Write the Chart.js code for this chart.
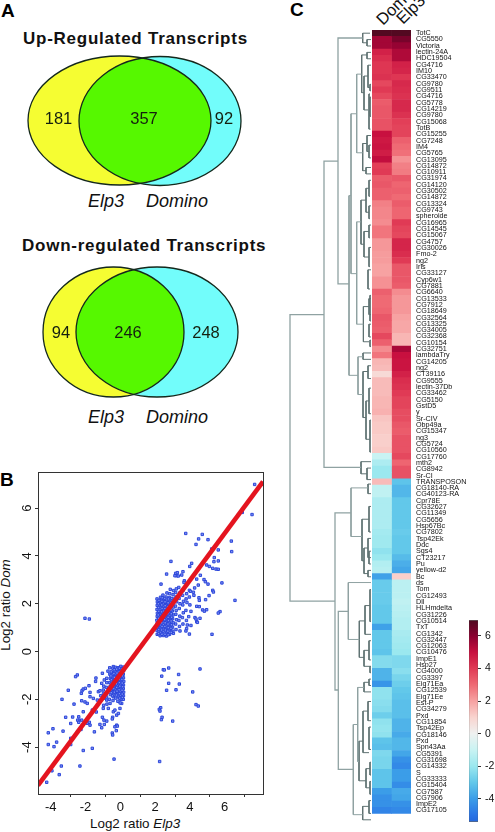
<!DOCTYPE html>
<html>
<head>
<meta charset="utf-8">
<script src="https://cdn.jsdelivr.net/npm/chart.js"></script>
<style>
  html, body { margin: 0; padding: 0; background: #fff; width: 495px; height: 832px; overflow: hidden; }
  canvas { position: absolute; }
  .t { position: absolute; white-space: nowrap; font-family: "Liberation Sans", Arial, sans-serif; color: #111; line-height: 1; }
  .panel { font-weight: bold; font-size: 19px; color: #000; }
  .venn-title { font-weight: bold; font-size: 17px; letter-spacing: 0.75px; }
  .venn-name { font-style: italic; font-size: 18px; }
  .axis-title { font-size: 13.4px; }
  .sample { font-size: 16.5px; transform-origin: 0 85%; transform: rotate(-45deg); }
</style>
</head>
<body>
<div class="t panel" style="left:1px;top:1px">A</div>
<div class="t panel" style="left:0px;top:470px">B</div>
<div class="t panel" style="left:290px;top:0px">C</div>
<div class="t venn-title" style="left:23px;top:30px">Up-Regulated Transcripts</div>
<div class="t venn-title" style="left:22px;top:237px">Down-regulated Transcripts</div>
<div class="t venn-name" style="left:88px;top:192px">Elp3</div>
<div class="t venn-name" style="left:146px;top:192px">Domino</div>
<div class="t venn-name" style="left:88px;top:408px">Elp3</div>
<div class="t venn-name" style="left:146px;top:408px">Domino</div>
<div class="t axis-title" style="left:90px;top:817px">Log2 ratio <i>Elp3</i></div>
<div class="t axis-title" style="left:6px;top:605px;transform:translate(-50%,-50%) rotate(-90deg)">Log2 ratio <i>Dom</i></div>
<div class="t sample" id="sample0" style="left:383px;top:12px"></div>
<div class="t sample" id="sample1" style="left:403px;top:11px"></div>

<canvas id="vennChart" style="left:0;top:0"></canvas>
<canvas id="scatterChart" style="left:0;top:460px"></canvas>
<canvas id="treeChart" style="left:284px;top:30px"></canvas>
<canvas id="heatChart" style="left:372px;top:0"></canvas>
<canvas id="barChart" style="left:469px;top:610px"></canvas>

<script>
// Venn counts and ellipses (in panel units)
const vennCounts = [[181, 357, 92], [94, 246, 248]];
const vennCountX = [[58.5, 144, 224], [61, 128, 206]];
const vennCountY = [119, 333];
const vennLeft = [[119.5, 120.5, 91.5, 64.5], [113.5, 332, 70.5, 65]];
const vennRight = [[160, 121, 81, 64.5], [157, 332, 81, 65]];

// Scatter: log2 ratios
const upElp3 = [
  6.57, 6.42, 5.86, 2.61, 3.56, 3.35, 3.89, 3.20, 5.23, 5.25, 4.10, 4.48, 4.25, 4.23, 4.48, 2.95, 2.84, 1.76, 1.51, 2.45,
  2.03, 2.13, 2.09, 1.99, 2.18, 2.38, 3.81, 3.97, 4.16, 4.35, 4.48, 3.45, 3.24, 3.66, 3.74, 3.89, 4.69, 3.33, 2.53, 2.51,
  1.19, 3.12, 2.82, 4.16, 4.20, 3.05, 3.08, 3.95, 3.75, 3.37, 3.39, 5.44, 3.24, 3.39, 3.58, 3.81, 3.68, 4.58, 4.48, 2.91,
  2.78, 3.14, 3.43, 3.20, 3.24, 3.28, 2.91, 2.70, 2.66, 2.28, 2.62, 2.82, 4.12, 1.90, -3.18, -2.93,
  .97, .96, .98, .97, .95, .97, .98, .96, .97, .98, .96,
  1.14, 1.16, 1.13, 1.15, 1.17, 1.14, 1.16, 1.13, 1.15, 1.17, 1.14, 1.16,
  1.33, 1.31, 1.35, 1.32, 1.34, 1.36, 1.31, 1.33, 1.35, 1.32, 1.34, 1.3,
  1.5, 1.52, 1.48, 1.51, 1.49, 1.53, 1.5, 1.47, 1.52, 1.49, 1.51, 1.48, 1.53,
  1.68, 1.66, 1.7, 1.67, 1.69, 1.65, 1.71, 1.68, 1.66, 1.7, 1.67, 1.69, 1.72,
  1.87, 1.85, 1.89, 1.86, 1.88, 1.84, 1.9, 1.87, 1.85, 1.88, 1.91,
  2.05, 2.03, 2.08, 2.04, 2.06, 2.02, 2.09, 2.05, 2.03, 2.07,
  2.25, 2.22, 2.27, 2.24, 2.28, 2.23, 2.26, 2.21,
  2.45, 2.42, 2.47, 2.44, 2.48, 2.43, 2.46,
  2.65, 2.62, 2.68, 2.63, 2.66,
  2.85, 2.82, 2.88,
  1.05, 1.06, 1.04, 1.07, 1.05, 1.03, 1.06, 1.05, 1.04, 1.07,
  1.24, 1.22, 1.25, 1.23, 1.26, 1.24, 1.22, 1.25, 1.23, 1.24, 1.26,
  1.42, 1.44, 1.41, 1.43, 1.4, 1.42, 1.44, 1.41, 1.43, 1.42, 1.4,
  1.6, 1.58, 1.61, 1.59, 1.62, 1.6, 1.58, 1.61, 1.59, 1.6, 1.62,
  1.78, 1.76, 1.79, 1.77, 1.8, 1.78, 1.76, 1.79, 1.77, 1.8
];
const upDom = [
  6.99, 5.73, 5.82, 4.94, 4.90, 4.71, 4.68, 4.48, 4.62, 4.18, 4.29, 4.25, 3.93, 3.76, 3.79, 3.69, 3.56, 3.77, 3.24, 3.34,
  3.27, 3.30, 3.17, 3.17, 3.16, 3.20, 3.62, 3.56, 3.48, 3.45, 3.44, 3.19, 3.03, 3.01, 2.92, 2.82, 2.87, 2.78, 2.96, 2.89,
  2.82, 2.66, 2.56, 2.56, 2.49, 2.48, 2.35, 2.34, 2.17, 2.25, 2.14, 2.14, 1.89, 1.88, 1.74, 1.75, 1.69, 1.67, 1.61, 1.68,
  1.46, 1.42, 1.39, 1.36, 1.25, 1.22, 1.09, 1.11, 0.96, 0.86, 0.86, 0.73, 0.72, 0.76, 1.39, 1.36,
  .72, .88, 1.02, 1.18, 1.31, 1.47, 1.6, 1.76, 1.93, 2.07, 2.2,
  .66, .8, .97, 1.1, 1.26, 1.4, 1.55, 1.69, 1.84, 1.98, 2.13, 2.27,
  .67, .84, .99, 1.13, 1.29, 1.44, 1.58, 1.74, 1.88, 2.03, 2.18, 2.36,
  .65, .78, .94, 1.08, 1.24, 1.37, 1.52, 1.67, 1.82, 1.96, 2.11, 2.28, 2.45,
  .72, .9, 1.05, 1.19, 1.34, 1.49, 1.63, 1.79, 1.94, 2.1, 2.26, 2.42, 2.6,
  .85, 1.02, 1.2, 1.37, 1.53, 1.7, 1.86, 2.02, 2.2, 2.38, 2.55,
  .92, 1.15, 1.33, 1.56, 1.72, 1.9, 2.08, 2.28, 2.47, 2.62,
  1.05, 1.3, 1.48, 1.8, 2.0, 2.22, 2.45, 2.68,
  1.15, 1.42, 1.62, 1.95, 2.1, 2.35, 2.57,
  1.3, 1.72, 2.05, 2.2, 2.42,
  1.95, 2.28, 2.52,
  .75, .92, 1.1, 1.25, 1.39, 1.53, 1.68, 1.84, 2.0, 2.14,
  .72, .9, 1.05, 1.2, 1.36, 1.5, 1.66, 1.8, 1.95, 2.1, 2.25,
  .72, .9, 1.05, 1.2, 1.33, 1.5, 1.63, 1.8, 1.92, 2.08, 2.22,
  .7, .85, 1.0, 1.15, 1.3, 1.43, 1.58, 1.74, 1.88, 2.04, 2.2,
  .8, .97, 1.12, 1.28, 1.43, 1.58, 1.74, 1.9, 2.05, 2.22
];
const downElp3 = [
  1.32, 1.63, 1.38, 1.23, 2.20, 3.43, 1.63, 2.24, 1.51, 2.05, 3.01, 3.20, 3.33, 1.17, 1.09, 1.13, 1.25, 1.21, 1.86, 1.11, -1.51,
  -3.62, -3.72, -4.14, -4.50, -3.81, -4.29, -3.89, -3.54, -4.00, -5.02, -5.29, -4.44, -4.00, -4.81, -5.29, -4.96, -4.00, -3.28, -2.76, -4.54, -3.47, -5.08, -4.66, -5.38,
  -3.39, -3.35, -3.28, -3.16, -2.95, -2.89, -2.55, -2.57, -2.18, -1.86, -1.76, -1.55, -2.07, -1.93, -2.22, -2.41, -2.32, -2.13, -3.37, -3.18, -3.05, -2.89, -2.70, -2.47, -2.32,
  -3.28, -3.52, -3.60, -3.37, -3.54, -3.05, -2.93, -2.89, -2.64, -3.41, -2.53, -2.76, -2.32, -2.18, -2.09, -1.93, -2.07, -2.22, -1.36, -1.46, -1.32, -1.38, -1.61, -1.59,
  -2.13, -1.84, -1.55, -1.59, -1.61, -1.36, -1.46, -1.26, -1.17, -1.07, -1.74, -1.93, -1.55,
  -.97, -.96, -.98, -.97, -.95, -.97, -.98, -.96, -.97, -.98,
  -1.13, -1.15, -1.12, -1.14, -1.16, -1.13, -1.11, -1.15, -1.14, -1.12, -1.16,
  -1.28, -1.3, -1.27, -1.29, -1.26, -1.31, -1.28, -1.3, -1.27, -1.29,
  -1.43, -1.45, -1.42, -1.44, -1.41, -1.46, -1.43, -1.45, -1.42,
  -1.58, -1.6, -1.57, -1.59, -1.56, -1.61, -1.58, -1.6, -1.57,
  -1.75, -1.73, -1.77, -1.74, -1.76, -1.72, -1.78,
  -1.93, -1.95, -1.91, -1.94, -1.92,
  -2.1, -2.12, -2.08, -2.11,
  -2.28, -2.26,
  -1.04, -1.05, -1.03, -1.06, -1.04, -1.02, -1.05, -1.04, -1.03,
  -1.2, -1.22, -1.19, -1.21, -1.2, -1.18, -1.22, -1.2, -1.19,
  -1.36, -1.34, -1.37, -1.35, -1.38, -1.36, -1.34, -1.37,
  -1.5, -1.52, -1.49, -1.51, -1.5, -1.53, -1.49,
  -1.67, -1.69, -1.66, -1.68, -1.65, -1.67
];
const downDom = [
  -0.76, -0.69, -0.77, -1.03, -0.96, -0.73, -1.33, -1.36, -1.62, -1.60, -1.69, -2.22, -2.28, -2.35, -2.42, -2.49, -2.75, -2.85, -2.91, -4.60, -4.50,
  -0.98, -1.05, -1.62, -2.00, -2.20, -2.75, -2.74, -2.73, -3.01, -3.23, -3.40, -3.33, -3.63, -3.79, -3.89, -3.98, -3.89, -4.14, -4.05, -4.79, -4.79, -4.99, -5.15, -5.47,
  -1.75, -1.64, -1.57, -1.54, -1.43, -1.71, -1.11, -1.25, -0.91, -0.82, -0.68, -0.63, -1.19, -1.12, -1.33, -1.68, -1.64, -1.61, -2.06, -2.11, -2.17, -1.89, -1.96, -2.03, -2.10,
  -2.52, -2.87, -2.87, -2.87, -2.96, -3.00, -2.96, -3.08, -3.36, -3.26, -2.53, -2.45, -3.05, -2.75, -2.87, -2.91, -3.05, -3.19, -3.08, -3.15, -3.12, -3.31, -3.41, -3.49,
  -2.38, -2.38, -2.52, -2.75, -2.82, -2.66, -2.45, -2.59, -2.38, -2.17, -2.17, -2.03, -1.89,
  -.65, -.8, -.95, -1.1, -1.25, -1.4, -1.55, -1.7, -1.85, -2.0,
  -.62, -.78, -.92, -1.07, -1.22, -1.37, -1.52, -1.68, -1.83, -2.0, -2.15,
  -.68, -.83, -.98, -1.13, -1.28, -1.43, -1.58, -1.73, -1.9, -2.08,
  -.66, -.82, -.97, -1.12, -1.27, -1.42, -1.57, -1.74, -1.95,
  -.7, -.88, -1.05, -1.2, -1.36, -1.5, -1.68, -1.85, -2.05,
  -.95, -1.12, -1.3, -1.47, -1.63, -1.8, -2.0,
  -1.3, -1.5, -1.7, -1.9, -2.2,
  -1.45, -1.75, -1.95, -2.25,
  -1.85, -2.02,
  -.72, -.87, -1.02, -1.17, -1.32, -1.47, -1.62, -1.78, -1.92,
  -.7, -.85, -1.0, -1.15, -1.3, -1.45, -1.6, -1.76, -1.95,
  -.74, -.9, -1.05, -1.2, -1.35, -1.5, -1.66, -1.82,
  -.76, -.92, -1.08, -1.24, -1.38, -1.55, -1.7,
  -.85, -1.02, -1.18, -1.36, -1.55, -1.72
];
const fitX = [-5.88, 7.05];
const fitY = [-5.6, 7.11];
const scatterTicksX = [-4, -2, 0, 2, 4, 6];
const scatterTicksY = [-4, -2, 0, 2, 4, 6];

// Heat map
const genes = ['TotC', 'CG5550', 'Victoria', 'lectin-24A', 'HDC19504', 'CG4716', 'IM10', 'CG33470', 'CG9780', 'CG9511',
  'CG4716', 'CG5778', 'CG14219', 'CG9780', 'CG15068', 'TotB', 'CG15255', 'CG7248', 'IM4', 'CG5765',
  'CG13095', 'CG14872', 'CG10911', 'CG31974', 'CG14120', 'CG30502', 'CG14872', 'CG13324', 'CG9743', 'spheroide',
  'CG16965', 'CG14545', 'CG15067', 'CG4757', 'CG30026', 'Fmo-2', 'ng2', 'Iris', 'CG33127', 'Cyp6w1',
  'CG7881', 'CG6640', 'CG13533', 'CG7912', 'CG18649', 'CG32564', 'CG13325', 'CG34005', 'CG32368', 'CG10154',
  'CG32751', 'lambdaTry', 'CG14205', 'ng2', 'CT39116', 'CG9555', 'lectin-37Db', 'CG33462', 'CG5150', 'GstD5',
  'y', 'Sr-CIV', 'Obp49a', 'CG15347', 'ng3', 'CG5724', 'CG10560', 'CG17760', 'mth2', 'CG8942',
  'Sr-CI', 'TRANSPOSON', 'CG18140-RA', 'CG40123-RA', 'Cpr78E', 'CG32627', 'CG11349', 'CG5656', 'Hsp67Bc', 'CG7802',
  'Tsp42Ek', 'Ddc', 'Sgs4', 'CT23217', 'Pu', 'yellow-d2', 'Bc', 'ds', 'Tom', 'CG12493',
  'Dll', 'HLHmdelta', 'CG31226', 'CG10514', 'TxT', 'CG1342', 'CG32447', 'CG12063', 'CG10476', 'ImpE1',
  'Hsp27', 'CG4000', 'CG3397', 'Eig71Ea', 'CG12539', 'Eig71Ee', 'Est-P', 'CG34279', 'Pxd', 'CG11854',
  'Tsp42Ep', 'CG18146', 'Pxd', 'Spn43Aa', 'CG5391', 'CG31698', 'CG14332', 'S', 'CG33333', 'CG15404',
  'CG7587', 'CG7906', 'ImpE2', 'CG17105'];
const domValues = [6.9, 5.6, 5.6, 4.6, 4.3, 4.1, 4.1, 4.2, 3.7, 4.0,
  3.7, 3.3, 3.4, 3.4, 3.5, 3.5, 5.0, 4.8, 4.9, 4.7,
  5.1, 3.9, 4.0, 3.3, 3.4, 3.2, 3.2, 2.6, 2.5, 2.5,
  2.4, 2.8, 2.8, 2.2, 2.2, 2.1, 2.1, 2.0, 2.0, 2.3,
  2.3, 3.2, 3.0, 3.0, 3.1, 3.4, 3.3, 3.2, 3.7, 3.2,
  2.4, 2.8, 1.6, 1.5, 0.8, 1.5, 1.5, 1.5, 1.6, 1.6,
  1.7, 1.3, 1.2, 1.2, 1.1, 1.1, 1.2, -1.0, -1.6, -2.0,
  -2.0, 1.5, -1.2, -1.2, -1.6, -1.6, -1.6, -1.6, -1.6, -1.8,
  -1.9, -1.9, -2.2, -2.0, -1.5, -1.4, -3.9, -2.9, -2.9, -2.9,
  -2.9, -3.0, -3.0, -3.0, -3.9, -3.0, -3.0, -3.0, -3.1, -2.4,
  -2.4, -3.5, -3.5, -4.2, -2.2, -2.2, -2.3, -2.4, -2.8, -2.2,
  -2.1, -2.2, -3.1, -3.2, -2.5, -2.6, -2.6, -3.1, -3.1, -3.1,
  -4.0, -4.3, -4.3, -4.6];
const elp3Values = [6.9, 6.3, 5.8, 5.4, 5.4, 4.6, 4.5, 4.1, 4.4, 4.3,
  4.2, 4.4, 4.4, 4.2, 3.9, 3.8, 3.8, 3.2, 3.0, 2.9,
  2.3, 2.6, 2.7, 3.4, 3.1, 3.2, 3.0, 3.3, 3.1, 3.1,
  4.0, 3.8, 3.7, 4.5, 4.5, 4.3, 4.0, 3.4, 3.4, 3.4,
  3.3, 2.4, 2.2, 2.2, 2.2, 2.0, 1.9, 1.9, 1.6, 1.6,
  5.5, 5.0, 4.9, 4.9, 4.6, 4.3, 4.2, 4.0, 3.8, 3.8,
  3.6, 3.6, 3.4, 3.3, 3.5, 3.5, 3.5, 3.7, 3.1, 3.5,
  3.5, -3.1, -3.4, -3.4, -3.0, -3.0, -3.0, -3.0, -3.0, -2.9,
  -3.0, -3.0, -3.0, -3.3, -3.6, -3.8, 1.1, -1.3, -1.3, -1.3,
  -1.2, -1.3, -1.4, -1.5, -1.5, -1.7, -1.8, -1.9, -2.0, -2.5,
  -2.5, -2.3, -2.6, -2.8, -3.0, -3.1, -3.2, -3.2, -3.2, -3.5,
  -3.5, -3.7, -3.4, -3.4, -3.8, -4.3, -4.5, -4.0, -4.0, -4.4,
  -3.7, -3.8, -4.3, -4.5];
const sampleNames = ['Dom', 'Elp3'];

// Colour key: value -> colour
const keyValues = [-5.41, -5, -4, -3, -2, -1, 0, 1, 2, 3, 4, 5, 6, 6.96];
const keyColors = ['#2468dc', '#2a74e6', '#3b9de8', '#62c8ea', '#9be8ef', '#c9f3f3', '#eff1f0', '#f9d4cf', '#f7a2a2', '#ef6a74', '#e03a55', '#c8103f', '#8a0030', '#4f0a20'];
const keyTicks = [-4, -2, 0, 2, 4, 6];

// Dendrogram merges: [height, top row, bottom row, top child height, bottom child height]
const treeMerges = [
  [82, 44.5, 89.3, 48, 37], [48, 20.5, 68.4, 34, 11], [34, 1.25, 39.7, 9.3, 23], [9.3, 0.5, 2, 2, 5], [5, 1.5, 2.5, 1, 1],
  [23, 25.9, 54, 21, 14], [21, 13.1, 38.1, 15.3, 15.3], [15.3, 6.9, 19.2, 10.3, 9.3], [10.3, 3.9, 9.8, 5, 8], [5, 3.5, 4.5, 1, 1],
  [8, 7.2, 12.5, 4, 4], [4, 5.5, 9, 1, 2], [2, 8.5, 9.5, 1, 1], [3, 10, 15.5, 2, 1.5], [2, 10.5, 13.5, 1, 1], [9.3, 17.75, 22, 5, 6],
  [5, 16.5, 19, 1, 3], [3, 18, 20, 1, 1], [6, 21.5, 22.5, 1, 1],
  [15.3, 30, 46, 11, 8.6], [11, 26.6, 33.5, 6, 8], [6, 24.75, 28.5, 3, 3], [3, 23.5, 26, 1, 2], [3, 27.5, 29.5, 1, 2],
  [8, 31.5, 35.5, 3, 3], [3, 30.5, 32.5, 1, 2], [3, 34, 37, 1, 2], [4, 37.5, 40.5, 1, 2],
  [8.6, 43.25, 48.75, 3, 3], [3, 42, 44.5, 1, 1], [3, 46, 48, 1, 1], [2, 48.5, 49.5, 1, 1], [2, 41.5, 45.5, 1, 1],
  [14, 51.1, 57, 9, 9], [9, 50.5, 51.5, 1, 1], [9, 53.4, 60.6, 4, 6], [4, 52.5, 54.5, 1, 1], [6, 58, 64, 3, 2], [3, 56, 60, 1, 1], [2, 61, 66, 1, 1],
  [11, 67.5, 69.4, 1, 5], [5, 68.5, 70.3, 1, 1],
  [37, 75.5, 103.2, 21, 33.7], [21, 71.6, 79.2, 4, 10], [4, 71, 72.5, 1, 1], [10, 76.5, 83, 3, 8], [3, 74.5, 78.5, 1, 1],
  [8, 81, 85, 4, 4], [4, 79.5, 82.5, 1, 1], [4, 84.5, 85.5, 1, 1], [3, 81.5, 83.5, 1, 1],
  [33.7, 90.9, 115.6, 23.7, 18.7], [23.7, 86.4, 95.3, 1, 12.7], [12.7, 92.4, 98.1, 7, 8], [7, 90, 94.5, 2, 1], [2, 87.5, 92.5, 1, 1],
  [8, 97, 99.5, 3, 2], [3, 95.5, 98.5, 1, 1], [2, 99.5, 100.5, 1, 1],
  [18.7, 108.6, 122.7, 14.3, 9.3], [14.3, 102.8, 114.4, 8, 13], [8, 102, 103.5, 3, 1], [3, 101.5, 102.5, 1, 1],
  [13, 111.2, 117.4, 9, 6], [9, 106.5, 113, 4, 3], [4, 105, 108, 1, 1], [3, 109, 112.5, 1, 1],
  [6, 115.5, 118.5, 2, 2], [2, 114.5, 116.5, 1, 1], [2, 117.5, 119.5, 1, 1],
  [9.3, 121.4, 123.5, 3, 1], [3, 120.5, 122.5, 1, 1]
];

function keyColor(value) {
  for (let i = 1; i < keyValues.length; i++) {
    if (value <= keyValues[i]) {
      const f = (value - keyValues[i - 1]) / (keyValues[i] - keyValues[i - 1]);
      const a = parseInt(keyColors[i - 1].slice(1), 16);
      const b = parseInt(keyColors[i].slice(1), 16);
      const mix = s => Math.round(((a >> s) & 255) * (1 - f) + ((b >> s) & 255) * f);
      return `rgb(${mix(16)},${mix(8)},${mix(0)})`;
    }
  }
  return keyColors[keyColors.length - 1];
}

function sizeCanvas(id, w, h) {
  const c = document.getElementById(id);
  c.width = w;
  c.height = h;
  c.style.width = w + 'px';
  c.style.height = h + 'px';
  return c;
}

sampleNames.forEach((name, i) => {
  document.getElementById('sample' + i).textContent = name;
});

Chart.defaults.font.family = '"Liberation Sans", Arial, sans-serif';
Chart.defaults.animation = false;
Chart.defaults.responsive = false;
Chart.defaults.plugins.legend.display = false;
Chart.defaults.plugins.tooltip.enabled = false;

// Venn diagrams, ellipses placed through the chart scales
const vennPlugin = {
  id: 'venn',
  afterDatasetsDraw(chart) {
    const { ctx, scales: { x, y } } = chart;
    const ellipse = e => {
      const cx = x.getPixelForValue(e[0]);
      const cy = y.getPixelForValue(e[1]);
      const rx = x.getPixelForValue(e[0] + e[2]) - cx;
      const ry = y.getPixelForValue(e[1] + e[3]) - cy;
      ctx.beginPath();
      ctx.ellipse(cx, cy, rx, ry, 0, 0, Math.PI * 2);
    };
    vennCounts.forEach((counts, i) => {
      ctx.save();
      ellipse(vennRight[i]);
      ctx.fillStyle = '#72fdfb';
      ctx.fill();
      ellipse(vennLeft[i]);
      ctx.fillStyle = '#f5fd32';
      ctx.fill();
      ctx.save();
      ellipse(vennLeft[i]);
      ctx.clip();
      ellipse(vennRight[i]);
      ctx.fillStyle = '#56f800';
      ctx.fill();
      ctx.restore();
      ctx.strokeStyle = '#14281c';
      ctx.lineWidth = 1.3;
      ellipse(vennLeft[i]);
      ctx.stroke();
      ellipse(vennRight[i]);
      ctx.stroke();
      ctx.fillStyle = '#15200f';
      ctx.font = '16.5px "Liberation Sans", Arial, sans-serif';
      ctx.textAlign = 'center';
      ctx.textBaseline = 'middle';
      counts.forEach((n, j) => {
        ctx.fillText(String(n), x.getPixelForValue(vennCountX[i][j]), y.getPixelForValue(vennCountY[i]));
      });
      ctx.restore();
    });
  }
};

new Chart(sizeCanvas('vennChart', 270, 440), {
  type: 'scatter',
  data: { datasets: [] },
  options: {
    layout: { padding: 0 },
    scales: {
      x: { display: false, min: 0, max: 270 },
      y: { display: false, min: 0, max: 440, reverse: true }
    }
  },
  plugins: [vennPlugin]
});

// Panel B
const framePlugin = {
  id: 'frame',
  afterDraw(chart) {
    const { ctx, chartArea: a } = chart;
    ctx.save();
    ctx.strokeStyle = '#333';
    ctx.lineWidth = 1;
    ctx.strokeRect(a.left + 0.5, a.top + 0.5, a.right - a.left, a.bottom - a.top);
    ctx.restore();
  }
};

const toPoints = (xs, ys) => xs.map((v, i) => ({ x: v, y: ys[i] }));
const markerStyle = {
  pointStyle: 'rect',
  pointRadius: 1.7,
  pointBorderWidth: 1,
  pointBorderColor: '#2c46da',
  pointBackgroundColor: '#7d90f0',
  showLine: false
};

new Chart(sizeCanvas('scatterChart', 270, 372), {
  type: 'scatter',
  data: {
    datasets: [
      { data: toPoints(fitX, fitY), type: 'line', borderColor: '#e4141f', borderWidth: 4.6, pointRadius: 0, order: 0 },
      { data: toPoints(upElp3, upDom), ...markerStyle, order: 1 },
      { data: toPoints(downElp3, downDom), ...markerStyle, order: 1 }
    ]
  },
  options: {
    layout: { padding: { top: 12, right: 7, left: 0, bottom: 0 } },
    scales: {
      x: {
        type: 'linear',
        min: -5.88,
        max: 7.05,
        afterBuildTicks: a => { a.ticks = scatterTicksX.map(v => ({ value: v })); },
        afterFit: a => { a.height = 38; },
        grid: { drawOnChartArea: false, tickLength: 3, tickColor: '#333' },
        border: { color: '#333' },
        ticks: { color: '#111', font: { size: 13 }, padding: 3, labelOffset: -20, maxRotation: 0 }
      },
      y: {
        min: -5.96,
        max: 7.51,
        afterBuildTicks: a => { a.ticks = scatterTicksY.map(v => ({ value: v })); },
        afterFit: a => { a.width = 38; },
        grid: { drawOnChartArea: false, tickLength: 3, tickColor: '#333' },
        border: { color: '#333' },
        ticks: { color: '#111', font: { size: 13 }, padding: 1.5, minRotation: 90, maxRotation: 90, crossAlign: 'center' }
      }
    }
  },
  plugins: [framePlugin]
});

// Panel C dendrogram
const treeDatasets = treeMerges.map(([h, top, bottom, hTop, hBottom]) => ({
  data: [{ x: hTop, y: top }, { x: h, y: top }, { x: h, y: bottom }, { x: hBottom, y: bottom }],
  showLine: true,
  borderColor: h > 13 ? '#8fa2a2' : '#5f7272',
  borderWidth: h > 30 ? 1.3 : 1,
  pointRadius: 0
}));

new Chart(sizeCanvas('treeChart', 88, 793), {
  type: 'scatter',
  data: { datasets: treeDatasets },
  options: {
    layout: { padding: 0 },
    scales: {
      x: { display: false, min: 0, max: 88, reverse: true },
      y: { display: false, min: 0, max: 124, reverse: true }
    }
  }
});

// Panel C heat map: two stacked unit bars per gene, coloured by value
const unitCells = genes.map(() => 1);

new Chart(sizeCanvas('heatChart', 123, 823), {
  type: 'bar',
  data: {
    labels: genes,
    datasets: [
      { data: unitCells, backgroundColor: ctx => keyColor(domValues[ctx.dataIndex]), barPercentage: 1, categoryPercentage: 1 },
      { data: unitCells, backgroundColor: ctx => keyColor(elp3Values[ctx.dataIndex]), barPercentage: 1, categoryPercentage: 1 }
    ]
  },
  options: {
    indexAxis: 'y',
    layout: { padding: { top: 30, left: 0, right: 0, bottom: 0 } },
    scales: {
      x: { display: false, stacked: true, min: 0, max: 2 },
      y: {
        position: 'right',
        stacked: true,
        afterFit: a => { a.width = 84; },
        grid: { display: false, drawTicks: false },
        border: { display: false },
        ticks: { autoSkip: false, color: '#111', font: { size: 7.2 }, padding: 5 }
      }
    }
  }
});

// Colour key
new Chart(sizeCanvas('barChart', 26, 222), {
  type: 'bar',
  data: {
    labels: ['key'],
    datasets: [{
      data: [[keyValues[0], keyValues[keyValues.length - 1]]],
      barPercentage: 1,
      categoryPercentage: 1,
      borderColor: '#333',
      borderWidth: 0.5,
      borderSkipped: false,
      backgroundColor: ctx => {
        const a = ctx.chart.chartArea;
        if (!a) return '#fff';
        const yScale = ctx.chart.scales.y;
        const g = ctx.chart.ctx.createLinearGradient(0, a.bottom, 0, a.top);
        keyValues.forEach((v, i) => {
          g.addColorStop((a.bottom - yScale.getPixelForValue(v)) / (a.bottom - a.top), keyColors[i]);
        });
        return g;
      }
    }]
  },
  options: {
    layout: { padding: { top: 6, bottom: 9, left: 0, right: 0 } },
    scales: {
      x: { display: false },
      y: {
        position: 'right',
        min: keyValues[0],
        max: keyValues[keyValues.length - 1],
        afterBuildTicks: a => { a.ticks = keyTicks.map(v => ({ value: v })); },
        afterFit: a => { a.width = 17; },
        grid: { drawOnChartArea: false, tickLength: 3, tickColor: '#333' },
        border: { display: false },
        ticks: { color: '#111', font: { size: 10.5 }, padding: 4 }
      }
    }
  }
});
</script>
</body>
</html>
